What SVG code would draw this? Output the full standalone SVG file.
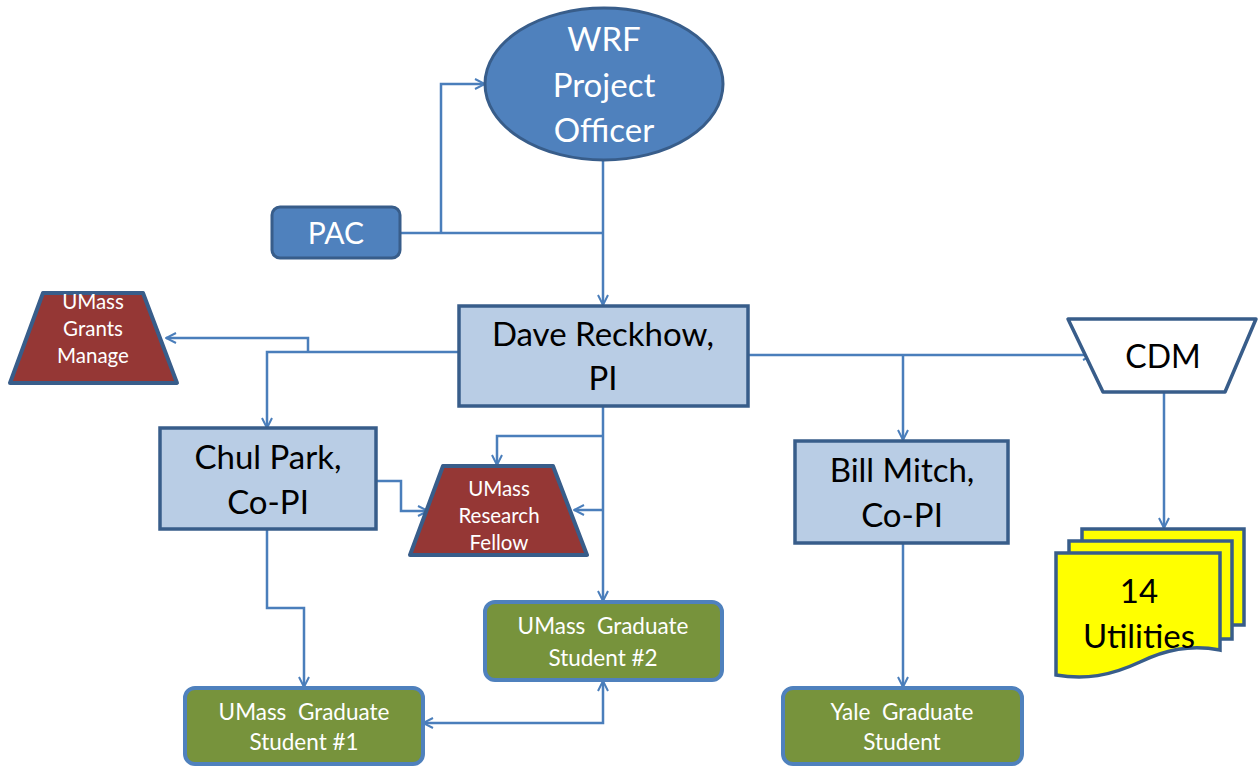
<svg xmlns="http://www.w3.org/2000/svg" width="1259" height="766" viewBox="0 0 1259 766">
<defs>
<style>
.wt{font-family:Lato,"Noto Sans",sans-serif;fill:#fff;text-anchor:middle}
.bk{font-family:Lato,"Noto Sans",sans-serif;fill:#000;text-anchor:middle}
.blue{fill:#4f81bd;stroke:#385d8a;stroke-width:3}
.lb{fill:#b9cde5;stroke:#385d8a;stroke-width:3.5}
.grn{fill:#77933c;stroke:#4f81bd;stroke-width:4}
.red{fill:#953735;stroke:#385d8a;stroke-width:4;stroke-linejoin:round}
.doc{fill:#ffff00;stroke:#385d8a;stroke-width:3.5}
.c{fill:none;stroke:#4a7ebb;stroke-width:2.5}
.big{font-size:33px}
.sm{font-size:20.5px}
.md{font-size:22.5px}
</style>
<marker id="ar" viewBox="0 0 12 12" refX="11" refY="6" markerWidth="12" markerHeight="12" markerUnits="userSpaceOnUse" orient="auto-start-reverse">
<path d="M1,1 L11,6 L1,11" fill="none" stroke="#4a7ebb" stroke-width="2"/>
</marker>
</defs>
<rect width="1259" height="766" fill="#fff"/>
<g id="connectors">
<path class="c" d="M400,233 H603"/>
<path class="c" d="M441,233 V84 H485" marker-end="url(#ar)"/>
<path class="c" d="M603,160 V305" marker-end="url(#ar)"/>
<path class="c" d="M459,352 H267 V428" marker-end="url(#ar)"/>
<path class="c" d="M308,352 V338 H166" marker-end="url(#ar)"/>
<path class="c" d="M376,481 H401 V511 H428" marker-end="url(#ar)"/>
<path class="c" d="M603,406 V601" marker-end="url(#ar)"/>
<path class="c" d="M603,436 H497 V465" marker-end="url(#ar)"/>
<path class="c" d="M603,510 H574" marker-end="url(#ar)"/>
<path class="c" d="M267,529 V608 H304 V687" marker-end="url(#ar)"/>
<path class="c" d="M423,723 H603 V681" marker-start="url(#ar)" marker-end="url(#ar)"/>
<path class="c" d="M748,355 H1093" marker-end="url(#ar)"/>
<path class="c" d="M903,355 V440" marker-end="url(#ar)"/>
<path class="c" d="M903,543 V687" marker-end="url(#ar)"/>
<path class="c" d="M1164,392 V528" marker-end="url(#ar)"/>
</g>
<g id="wrf">
<ellipse class="blue" cx="604" cy="84" rx="119" ry="76"/>
<text class="wt big" x="604" y="51">WRF</text>
<text class="wt big" x="604" y="97">Project</text>
<text class="wt big" x="604" y="142">Officer</text>
</g>
<g id="pac">
<rect class="blue" x="272" y="207" width="128" height="51" rx="8"/>
<text class="wt" font-size="30" x="336" y="244">PAC</text>
</g>
<g id="dave">
<rect class="lb" x="459" y="306" width="289" height="100"/>
<text class="bk big" x="603" y="346">Dave Reckhow,</text>
<text class="bk big" x="603" y="390">PI</text>
</g>
<g id="grants">
<polygon class="red" points="43,293 143,293 177,383 10,383"/>
<text class="wt sm" x="93" y="309">UMass</text>
<text class="wt sm" x="93" y="336">Grants</text>
<text class="wt sm" x="93" y="363">Manage</text>
</g>
<g id="chul">
<rect class="lb" x="160" y="428" width="216" height="101"/>
<text class="bk big" x="268" y="469">Chul Park,</text>
<text class="bk big" x="268" y="514">Co-PI</text>
</g>
<g id="fellow">
<polygon class="red" points="443,466 553,466 587,555 410,555"/>
<text class="wt sm" x="499" y="496">UMass</text>
<text class="wt sm" x="499" y="523">Research</text>
<text class="wt sm" x="499" y="550">Fellow</text>
</g>
<g id="grad2">
<rect class="grn" x="485" y="602" width="237" height="78" rx="10"/>
<text class="wt md" x="603" y="634" xml:space="preserve">UMass  Graduate</text>
<text class="wt md" x="603" y="666">Student #2</text>
</g>
<g id="grad1">
<rect class="grn" x="185" y="688" width="238" height="76" rx="10"/>
<text class="wt md" x="304" y="720" xml:space="preserve">UMass  Graduate</text>
<text class="wt md" x="304" y="750">Student #1</text>
</g>
<g id="bill">
<rect class="lb" x="795" y="441" width="213" height="102"/>
<text class="bk big" x="902" y="482">Bill Mitch,</text>
<text class="bk big" x="902" y="527">Co-PI</text>
</g>
<g id="yale">
<rect class="grn" x="783" y="688" width="239" height="76" rx="10"/>
<text class="wt md" x="902" y="720" xml:space="preserve">Yale  Graduate</text>
<text class="wt md" x="902" y="750">Student</text>
</g>
<g id="cdm">
<polygon points="1068,319 1256,319 1225,392 1103,392" fill="#fff" stroke="#385d8a" stroke-width="3.5" stroke-linejoin="round"/>
<text class="bk" font-size="32" x="1163" y="368">CDM</text>
</g>
<g id="utilities">
<rect class="doc" x="1082" y="529" width="162" height="96"/>
<rect class="doc" x="1069" y="541" width="163" height="98"/>
<path class="doc" d="M1056,553 H1220 V650 C1190,644 1165,650 1140,662 C1110,676 1085,680 1056,675 Z"/>
<text class="bk" font-size="33" x="1139" y="603">14</text>
<text class="bk" font-size="33" x="1139" y="648">Utilities</text>
</g>
</svg>
